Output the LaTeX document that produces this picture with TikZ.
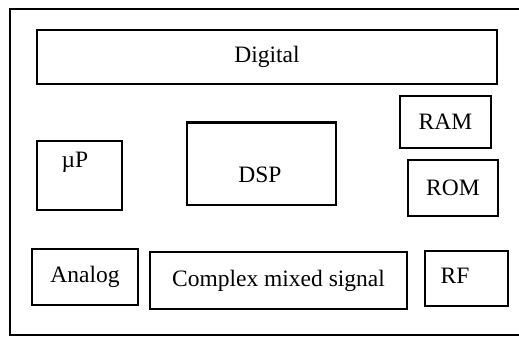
\documentclass[tikz,border=0pt]{standalone}
\usepackage{fontspec}
\setmainfont{Liberation Serif}
\begin{document}
\begin{tikzpicture}[x=1pt,y=-1pt,
  box/.style={draw=black, line width=1.3pt, inner sep=0pt, anchor=center},
  lbl/.style={inner sep=0pt, font=\fontsize{23.5}{27}\selectfont}]
\useasboundingbox (0,0) rectangle (519,337);
\draw[line width=1.2pt] (519,9) -- (10,9) -- (10,335) -- (519,335);
% boxes
\node[box, lbl, minimum width=460pt, minimum height=54pt] (digital) at (267,57) {Digital};
\node[box, lbl, minimum width=91pt, minimum height=52pt] (ram) at (445.5,122) {RAM};
\node[box, lbl, minimum width=90pt, minimum height=56pt] (rom) at (453,188) {ROM};
\node[box, minimum width=85pt, minimum height=69pt] (up) at (79.5,175.5) {};
\node[box, minimum width=149pt, minimum height=82pt] (dsp) at (261.5,164) {};
\node[box, lbl, minimum width=106pt, minimum height=56pt] (analog) at (85,277) {Analog};
\node[box, lbl, minimum width=257pt, minimum height=57pt] (cms) at (278.5,280.5) {Complex mixed signal};
\node[box, minimum width=83pt, minimum height=55pt] (rf) at (466.5,278.5) {};
\draw[line width=2.4pt] (dsp.north west) -- (dsp.north east);
% off-centre labels
\node[lbl] (uplbl) at (75,162) {µP};
\node[lbl] (dsplbl) at (260,175) {DSP};
\node[lbl] (rflbl) at (455,276) {RF};
\end{tikzpicture}
\end{document}
